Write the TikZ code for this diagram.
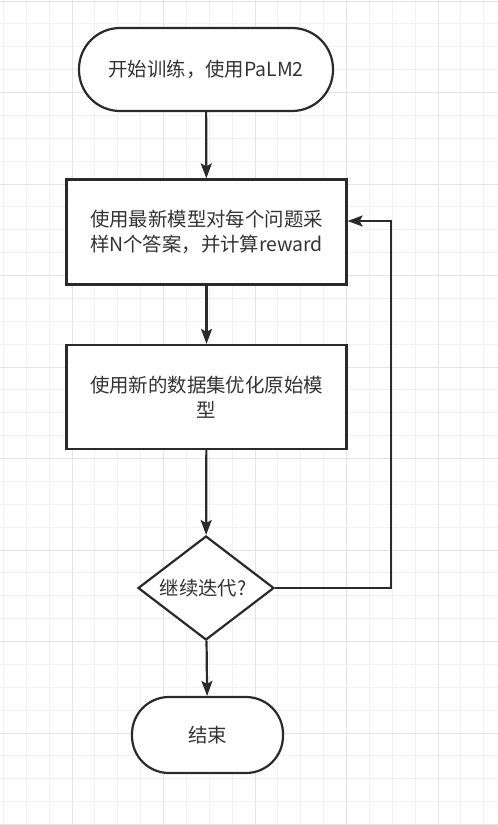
\documentclass[tikz,border=0pt]{standalone}
\usepackage{fontspec}
\setmainfont{Noto Sans CJK SC}
\usepackage{tikz}
\usetikzlibrary{arrows.meta,shapes.geometric}
\definecolor{gridminor}{RGB}{241,241,241}
\definecolor{gridmajor}{RGB}{228,228,228}
\definecolor{edgegrey}{RGB}{40,42,46}
\definecolor{textgrey}{RGB}{51,51,51}
\newcommand{\drawbggrid}{
    \foreach \i in {0,...,21}{
      \draw[gridminor, line width=1pt] ({3.4+22.875*\i},0)--({3.4+22.875*\i},825);
    }
    \foreach \j in {0,...,36}{
      \draw[gridminor, line width=1pt] (0,{1+22.875*\j})--(498,{1+22.875*\j});
    }
    \foreach \i in {0,...,4}{
      \draw[gridmajor, line width=1pt] ({72+91.5*\i},0)--({72+91.5*\i},825);
    }
    \foreach \j in {0,...,9}{
      \draw[gridmajor, line width=1pt] (0,{1+91.5*\j})--(498,{1+91.5*\j});
    }
}
\tikzset{
  box/.style={draw=edgegrey, line width=2.2pt, fill=white, text=textgrey,
    font=\fontsize{19.4}{25}\selectfont, align=center, inner sep=0pt},
  termbox/.style={box, rectangle, rounded corners=#1},
  stepbox/.style={box, rectangle, minimum width=280pt, minimum height=105pt},
  decbox/.style={box, diamond, aspect=1.3, minimum width=136pt, minimum height=104pt},
  flow/.style={draw=edgegrey, line width=2.2pt, -{Stealth[length=15pt,width=11pt,inset=3pt]}}
}
\begin{document}
\begin{tikzpicture}[x=1pt,y=-1pt]
\useasboundingbox (0,0) rectangle (498,825);
\fill[white] (0,0) rectangle (498,825);
\drawbggrid
\node[termbox=41pt, minimum width=254pt, minimum height=83pt] (start) at (206,69.5) {开始训练，使用PaLM2};
\node[stepbox] (sample) at (206.5,232) {使用最新模型对每个问题采\\样N个答案，并计算reward};
\node[stepbox, minimum height=104pt] (tune) at (206.5,397) {使用新的数据集优化原始模\\型};
\node[decbox] (again) at (206,588) {\hspace*{-6pt}继续迭代?};
\node[termbox=37pt, minimum width=151pt, minimum height=76pt] (stop) at (207.5,735) {结束};
\coordinate (back) at (391,221);
\draw[flow] (start) -- (sample);
\draw[flow] (sample) -- (tune);
\draw[flow] (tune) -- (again);
\draw[flow] (again) -- (stop);
\draw[flow] (again.east) -| (back) -- (back -| sample.east);
\end{tikzpicture}
\end{document}
